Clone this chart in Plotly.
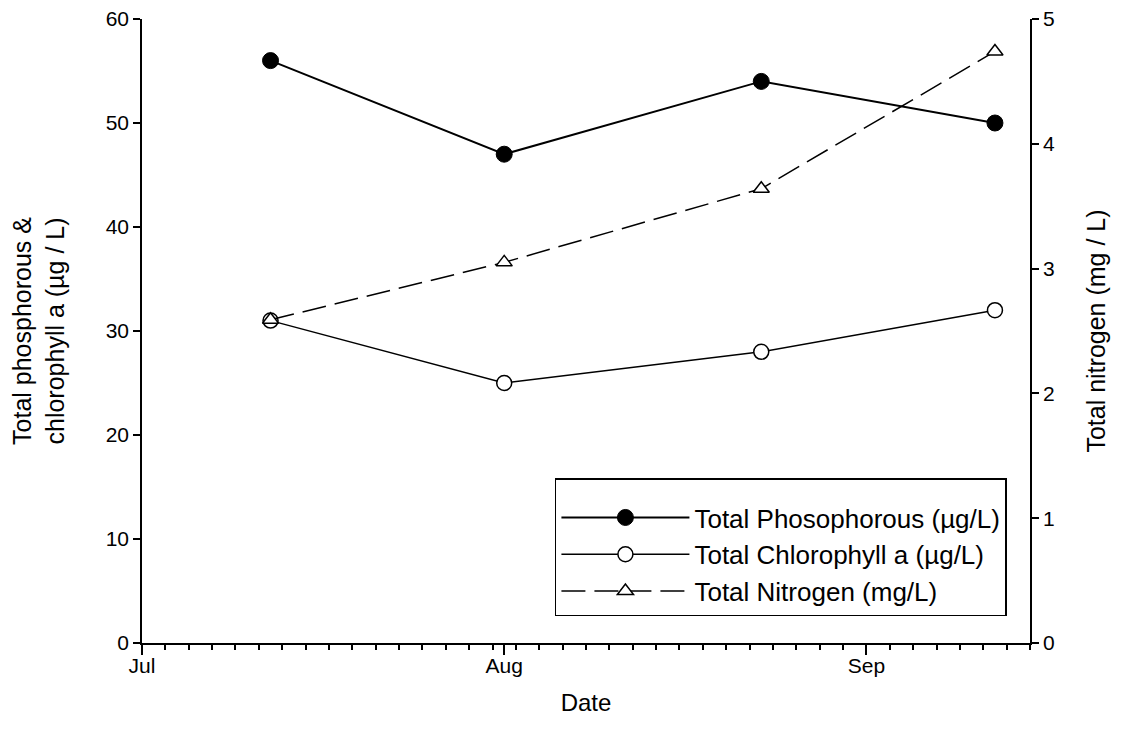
import plotly.graph_objects as go

dates = ["2008-07-12", "2008-08-01", "2008-08-23", "2008-09-12"]
phosphorous = [56, 47, 54, 50]
chlorophyll = [31, 25, 28, 32]
nitrogen = [2.59, 3.05, 3.64, 4.74]

left_ticks = [0, 10, 20, 30, 40, 50, 60]
right_ticks = [0, 1, 2, 3, 4, 5]

FONT = "Liberation Sans, Arial, sans-serif"

fig = go.Figure()
fig.add_trace(go.Scatter(
    x=dates, y=phosphorous, mode="lines+markers",
    name="Total Phosophorous (µg/L)",
    line=dict(color="black", width=2),
    marker=dict(symbol="circle", size=16, color="black", line=dict(color="black", width=1)),
))
fig.add_trace(go.Scatter(
    x=dates, y=chlorophyll, mode="lines+markers",
    name="Total Chlorophyll a (µg/L)",
    line=dict(color="black", width=1.5),
    marker=dict(symbol="circle", size=15, color="white", line=dict(color="black", width=1.5)),
))
fig.add_trace(go.Scatter(
    x=dates, y=nitrogen, mode="lines+markers", yaxis="y2",
    name="Total Nitrogen (mg/L)",
    line=dict(color="black", width=1.5, dash="24px,9px"),
    marker=dict(symbol="triangle-up", size=14, color="white", line=dict(color="black", width=1.5)),
))

fig.update_layout(
    width=1122, height=742,
    margin=dict(l=134, r=100, t=11, b=107, autoexpand=False),
    paper_bgcolor="white", plot_bgcolor="white",
    font=dict(family=FONT, size=21, color="black"),
    showlegend=True,
    legend=dict(
        x=0.465, y=0.264, xanchor="left", yanchor="top",
        bordercolor="black", borderwidth=1.5, bgcolor="white",
        font=dict(family=FONT, size=26),
        itemwidth=128, tracegroupgap=0,
        title=dict(text=" ", font=dict(size=11)),
    ),
    xaxis=dict(
        type="date", range=["2008-07-01", "2008-09-15"],
        tick0="2008-07-01", dtick="M1", tickformat="%b",
        ticks="outside", ticklen=10, tickwidth=1.5, tickcolor="black",
        showline=True, linecolor="black", linewidth=1.5,
        showgrid=False, zeroline=False, automargin=False,
        minor=dict(ticks="outside", ticklen=5, tickwidth=1.5, tickcolor="black",
                   tick0="2008-07-01", dtick=2 * 86400000, showgrid=False),
        title=dict(text="Date", font=dict(size=24), standoff=18),
        tickfont=dict(size=21),
        ticklabelstandoff=-7,
        ticklabeloverflow="allow",
    ),
    yaxis=dict(
        range=[0, 60], tickvals=left_ticks,
        ticks="outside", ticklen=7, tickwidth=1.5, tickcolor="black",
        showline=True, linecolor="black", linewidth=1.5,
        showgrid=False, zeroline=False, automargin=False,
        title=dict(text="Total phosphorous &<br>chlorophyll a (µg / L)", font=dict(size=25), standoff=40),
        tickfont=dict(size=21),
        ticklabeloverflow="allow",
    ),
    yaxis2=dict(
        range=[0, 5], tickvals=right_ticks, overlaying="y", side="right",
        ticks="outside", ticklen=7, tickwidth=1.5, tickcolor="black",
        showline=True, linecolor="black", linewidth=1.5,
        showgrid=False, zeroline=False, automargin=False,
        title=dict(text="Total nitrogen (mg / L)", font=dict(size=25), standoff=34),
        tickfont=dict(size=21),
        ticklabeloverflow="allow",
    ),
)

fig.write_html("out.html")
